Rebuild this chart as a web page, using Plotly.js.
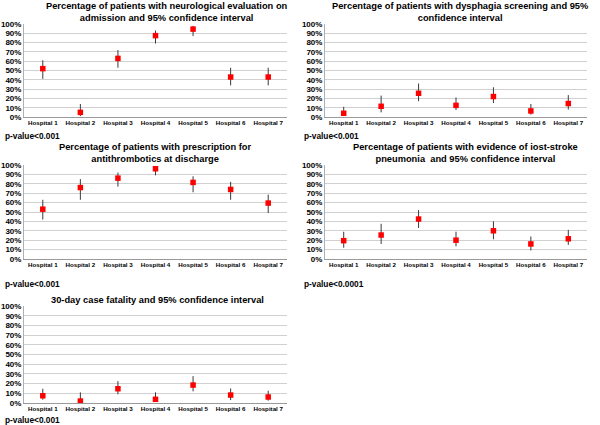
<!DOCTYPE html>
<html>
<head>
<meta charset="utf-8">
<script src="https://cdn.plot.ly/plotly-3.0.1.min.js"></script>
<style>html,body{margin:0;padding:0;background:#fff;}#chart{width:600px;height:425px;}</style>
</head>
<body>
<div id="chart"></div>
<script>
const hospitals = ["Hospital 1","Hospital 2","Hospital 3","Hospital 4","Hospital 5","Hospital 6","Hospital 7"];

const titles = [
  "Percentage of patients with neurological evaluation on<br>admission and 95% confidence interval",
  "Percentage of patients with dysphagia screening and 95%<br>confidence interval",
  "Percentage of patients with prescription for<br>antithrombotics at discharge",
  "Percentage of patients with evidence of iost-stroke<br>pneumonia  and 95% confidence interval",
  "30-day case fatality and 95% confidence interval"
];
const pvalues = ["p-value<0.001","p-value<0.001","p-value<0.001","p-value<0.0001","p-value<0.001"];

// Panel 1: neurological evaluation on admission
const neuroValue = [52, 5, 63, 87.5, 94.5, 43, 43];
const neuroLow   = [41, 1, 53, 79, 87, 34, 34];
const neuroHigh  = [61, 14, 72, 93, 98, 53, 53];

// Panel 2: dysphagia screening
const dysValue = [4, 11.5, 25.5, 12.5, 22, 6.5, 14.5];
const dysLow   = [1, 5, 17, 7.5, 15, 2.5, 8];
const dysHigh  = [11, 23, 36, 21, 32, 14, 23.5];

// Panel 3: antithrombotics at discharge
const antiValue = [53, 76, 86, 96, 81.5, 74, 59.5];
const antiLow   = [42, 63, 77, 89, 71, 63, 49];
const antiHigh  = [63, 85, 92, 98, 88, 82, 68.5];

// Panel 4: post-stroke pneumonia
const pneuValue = [19.5, 25.5, 42.5, 20, 30, 16, 21.5];
const pneuLow   = [12, 16, 33, 13.5, 21, 9, 15];
const pneuHigh  = [29, 37.5, 52, 29, 40, 24, 31];

// Panel 5: 30-day case fatality
const fatValue = [7.5, 2, 14.7, 3.8, 18.5, 8.2, 6.2];
const fatLow   = [3.4, 0.3, 9, 1.4, 12, 3, 2.4];
const fatHigh  = [14.7, 11, 22.6, 11, 27.7, 15, 12.7];

const series = [
  [neuroValue, neuroLow, neuroHigh],
  [dysValue, dysLow, dysHigh],
  [antiValue, antiLow, antiHigh],
  [pneuValue, pneuLow, pneuHigh],
  [fatValue, fatLow, fatHigh]
];

const W = 600, H = 425;
// panel pixel boxes [left, right, top, bottom]
const boxes = [
  [24, 287, 24, 117],
  [325, 587, 24, 117],
  [24, 287, 165, 259],
  [325, 587, 165, 259],
  [24, 287, 306, 403]
];
const titlePos = [[167, 12], [460, 12], [155, 153], [466, 153], [157, 300]];
const pPos = [[3, 136], [302, 136], [3, 284], [302, 284], [3, 420]];

const FONT = "Liberation Sans, Arial, sans-serif";
const data = [];
const layout = {
  width: W, height: H,
  margin: {l: 0, r: 0, t: 0, b: 0},
  paper_bgcolor: "#ffffff", plot_bgcolor: "#ffffff",
  showlegend: false,
  font: {family: FONT, color: "#000000"},
  annotations: []
};

series.forEach((s, i) => {
  const [v, lo, hi] = s;
  const n = i + 1;
  const xa = "x" + (n === 1 ? "" : n), ya = "y" + (n === 1 ? "" : n);
  data.push({
    type: "scatter", mode: "markers",
    x: hospitals, y: v,
    xaxis: xa, yaxis: ya,
    marker: {symbol: "square", size: 5.5, color: "#ff0000"},
    error_y: {
      type: "data", symmetric: false,
      array: v.map((val, k) => hi[k] - val),
      arrayminus: v.map((val, k) => val - lo[k]),
      color: "#3a3a3a", thickness: 1, width: 0
    },
    hoverinfo: "skip"
  });
  const b = boxes[i];
  layout["xaxis" + (n === 1 ? "" : n)] = {
    domain: [b[0] / W, b[1] / W],
    anchor: ya,
    type: "category",
    range: [-0.5, 6.5],
    showgrid: false, zeroline: false,
    showline: true, linecolor: "#9a9a9a", linewidth: 1,
    ticks: "", tickfont: {family: FONT, size: 6.2, color: "#000", weight: "bold"},
    fixedrange: true
  };
  layout["yaxis" + (n === 1 ? "" : n)] = {
    domain: [1 - b[3] / H, 1 - b[2] / H],
    anchor: xa,
    range: [0, 100], dtick: 10, tick0: 0,
    ticksuffix: "%",
    showgrid: true, gridcolor: "#d0d0d0", gridwidth: 1,
    zeroline: false,
    showline: true, linecolor: "#b0b0b0", linewidth: 1,
    ticks: "", tickfont: {family: FONT, size: 8, color: "#000", weight: "bold"},
    fixedrange: true
  };
  layout.annotations.push({
    xref: "paper", yref: "paper",
    x: titlePos[i][0] / W, y: 1 - titlePos[i][1] / H,
    xanchor: "center", yanchor: "middle",
    text: "<b>" + titles[i] + "</b>", showarrow: false,
    font: {family: FONT, size: 9.3, color: "#000"}, align: "center"
  });
  layout.annotations.push({
    xref: "paper", yref: "paper",
    x: pPos[i][0] / W, y: 1 - pPos[i][1] / H,
    xanchor: "left", yanchor: "middle",
    text: "<b>" + pvalues[i] + "</b>", showarrow: false,
    font: {family: FONT, size: 8.3, color: "#000"}
  });
});

Plotly.newPlot("chart", data, layout, {staticPlot: true, displayModeBar: false});
</script>
</body>
</html>
